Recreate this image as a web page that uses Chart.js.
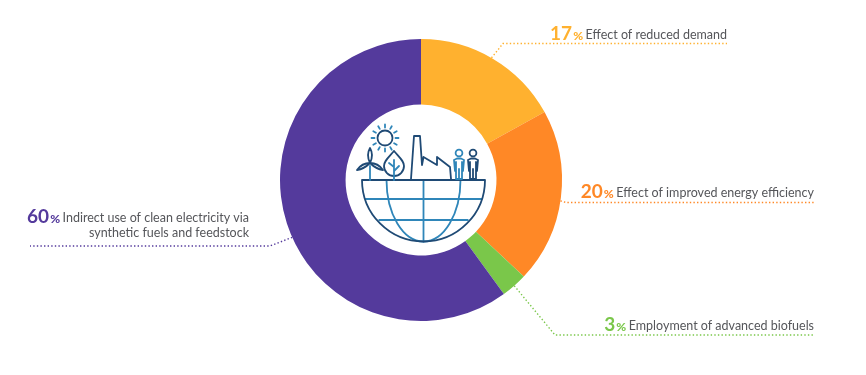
<!DOCTYPE html>
<html><head><meta charset="utf-8">
<style>html,body{margin:0;padding:0;background:#fff}canvas{display:block}</style>
<script src="https://cdn.jsdelivr.net/npm/chart.js@4/dist/chart.umd.min.js"></script>
</head><body><canvas id="c" width="866" height="375"></canvas>
<script>
const categories = [["Effect of reduced demand"],["Effect of improved energy efficiency"],["Employment of advanced biofuels"],["Indirect use of clean electricity via","synthetic fuels and feedstock"]];
const shares = [17,20,3,60];
const colours = ['#FFB12F','#FF8826','#7AC74A','#543A9C'];
const INK='#55565A', DARK='#1F4A75', BLUE='#2F86B9';
const leaderAngle=[30,98.5,138.6,246];
const leaderElbow=[[503,43.5],[566,202.5],[555,335],[270,246]];
const leaderEnd=[[727,43.5],[814,202.5],[814,335],[30,246]];
const labelRight=[727,814,814,249];
const labelBase=[39,197,330,222];
const FACE='"Lato"';

function drawLabel(ctx,i){
  const lines=categories[i];
  let base=labelBase[i], right=labelRight[i];
  ctx.textBaseline='alphabetic';ctx.textAlign='left';
  ctx.font='12.5px '+FACE;
  const tw=ctx.measureText(lines[0]).width;
  ctx.fillStyle=INK;
  ctx.fillText(lines[0],right-tw,base);
  if(lines[1]){const w=ctx.measureText(lines[1]).width;ctx.fillText(lines[1],right-w,base+15);}
  ctx.fillStyle=colours[i];
  ctx.font='900 12px '+FACE;
  const pw=ctx.measureText('%').width;
  const px=right-tw-2.5-pw;
  ctx.fillText('%',px,base+1);
  ctx.font='bold 19px '+FACE;
  const num=String(shares[i]);
  const nw=ctx.measureText(num).width;
  ctx.fillText(num,px-nw-1,base+1);
}
function drawIcon(ctx){
  ctx.save();ctx.setLineDash([]);ctx.lineCap='round';ctx.lineJoin='round';ctx.lineWidth=1.8;
  const S=(col,f)=>{ctx.strokeStyle=col;ctx.beginPath();f();ctx.stroke();};
  const poly=p=>{p.forEach((q,k)=>k?ctx.lineTo(q[0],q[1]):ctx.moveTo(q[0],q[1]));};
  const cx=423.5,ty=180,R=61.5;
  // globe grid
  S(BLUE,()=>{poly([[cx-R*0.94,199],[cx+R*0.94,199]]);});
  S(BLUE,()=>{poly([[cx-R*0.72,220],[cx+R*0.72,220]]);});
  S(BLUE,()=>{poly([[cx,ty],[cx,ty+R]]);});
  S(BLUE,()=>{ctx.ellipse(cx,ty,37,R,0,0,Math.PI);});
  // globe outline
  S(DARK,()=>{ctx.arc(cx,ty,R,0,Math.PI);ctx.closePath();});
  // sun
  S(DARK,()=>{ctx.arc(385,138,7.5,0,Math.PI*2);});
  S(BLUE,()=>{for(let k=0;k<12;k++){const a=k*Math.PI/6;ctx.moveTo(385+10.5*Math.cos(a),138+10.5*Math.sin(a));ctx.lineTo(385+13.5*Math.cos(a),138+13.5*Math.sin(a));}});
  // turbine
  S(BLUE,()=>{poly([[370,166],[370,180]]);});
  S(DARK,()=>{
    const hx=370,hy=163;
    [[370,148,-4,-8,4,-8],[357,170,-8,0,-6,6],[383,170,8,0,6,6]].forEach(([tx,ty2,a,b,c,d])=>{
      ctx.moveTo(hx,hy);ctx.quadraticCurveTo(hx+a,hy+b,tx,ty2);ctx.quadraticCurveTo(hx+c,hy+d,hx,hy);
    });
  });
  // tree
  S(DARK,()=>{ctx.moveTo(394,151);ctx.bezierCurveTo(388,158,384,161,384,166);ctx.arc(394,166,10,Math.PI,0,true);ctx.bezierCurveTo(404,161,400,158,394,151);});
  S(BLUE,()=>{poly([[394,160],[394,180]]);poly([[394,167],[389,163]]);poly([[394,171],[399,166]]);});
  // factory
  S(DARK,()=>{poly([[411,179],[414,136],[420,136],[422,165],[423.5,157],[437,165],[437,157],[450,167],[451,179]]);});
  // people
  [[459,BLUE],[473,DARK]].forEach(([x,c])=>{
    S(c,()=>{ctx.arc(x,153,3.4,0,Math.PI*2);});
    S(c,()=>{poly([[x-4,171],[x-5,160],[x-2,158.5],[x+2,158.5],[x+5,160],[x+4,171]]);poly([[x-3,162],[x-3,179],[x+3,179],[x+3,162]]);poly([[x,169],[x,179]]);});
  });
  ctx.restore();
}
const annot={id:'annot',afterDatasetsDraw(chart){
  const ctx=chart.ctx,arcs=chart.getDatasetMeta(0).data;
  ctx.save();
  arcs.forEach((a,i)=>{
    const t=leaderAngle[i]*Math.PI/180;
    const r=a.outerRadius;
    ctx.strokeStyle=colours[i];ctx.lineWidth=1.4;ctx.setLineDash([1.4,2.2]);
    ctx.beginPath();
    ctx.moveTo(a.x+r*Math.sin(t),a.y-r*Math.cos(t));
    ctx.lineTo(leaderElbow[i][0],leaderElbow[i][1]);
    ctx.lineTo(leaderEnd[i][0],leaderEnd[i][1]);
    ctx.stroke();
    drawLabel(ctx,i);
  });
  drawIcon(ctx);
  ctx.restore();
}};
new Chart(document.getElementById('c'),{
  type:'doughnut',
  data:{labels:categories.map(l=>l.join(' ')),datasets:[{data:shares,backgroundColor:colours,borderWidth:0}]},
  options:{responsive:false,animation:false,cutout:'53.5%',rotation:0,
    layout:{padding:{left:280,right:304,top:39,bottom:54}},
    plugins:{legend:{display:false},tooltip:{enabled:false}}},
  plugins:[annot]
});
</script></body></html>
